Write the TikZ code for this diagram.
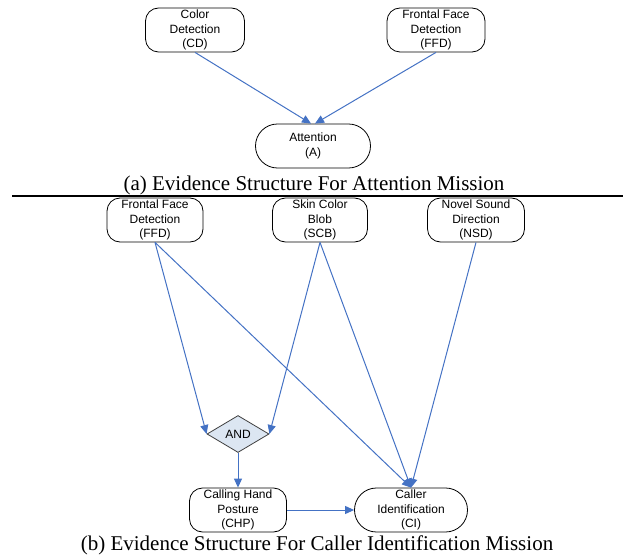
\documentclass[tikz,border=0pt]{standalone}
\usepackage{fontspec}
\setmainfont{Liberation Serif}
\newfontfamily\boxfont{Liberation Sans}
\usetikzlibrary{shapes.geometric,arrows.meta}
\definecolor{arrowblue}{RGB}{68,114,196}
\definecolor{andfill}{RGB}{220,230,242}
\begin{document}
\begin{tikzpicture}[x=1pt,y=-1pt,
  evbox/.style={draw=black, rounded corners=13pt, minimum height=44pt, align=center,
    font=\boxfont\fontsize{12}{14.3}\selectfont, inner sep=0pt, line width=0.8pt},
  stadium/.style={evbox, rounded corners=21.9pt},
  andnode/.style={draw=black!75, fill=andfill, diamond, aspect=1.68, minimum width=62pt,
    minimum height=37pt, inner sep=0pt, line width=0.8pt, font=\boxfont\fontsize{12}{14}\selectfont},
  link/.style={draw=arrowblue, line width=1pt, -{Triangle[length=9pt,width=8pt]}},
  caption/.style={anchor=base, font=\fontsize{21}{24}\selectfont, inner sep=0pt}]
\useasboundingbox (0,0) rectangle (623,556);
% (a)
\node[evbox, minimum width=99pt] (cd) at (195,30) {Color\\Detection\\(CD)};
\node[evbox, minimum width=98pt] (ffda) at (436,30) {Frontal Face\\Detection\\(FFD)};
\node[stadium, minimum width=115pt] (att) at (313,146) {Attention\\(A)};
\draw[link] (cd.south) -- ([xshift=-2pt]att.north);
\draw[link] (ffda.south) -- ([xshift=2pt]att.north);
\node[caption] (capa) at (314,190) {(a) Evidence Structure For Attention Mission};
\coordinate (ruleL) at (12,196);
\coordinate (ruleR) at (623,196);
\draw[line width=2pt] (ruleL) -- (ruleR);
% (b)
\node[evbox, minimum width=96pt] (ffdb) at (155,220) {Frontal Face\\Detection\\(FFD)};
\node[evbox, minimum width=95pt] (scb) at (320,220) {Skin Color\\Blob\\(SCB)};
\node[evbox, minimum width=97pt] (nsd) at (476,220) {Novel Sound\\Direction\\(NSD)};
\node[andnode] (and) at (238,434) {AND};
\node[evbox, minimum width=97pt] (chp) at (238,510) {Calling Hand\\Posture\\(CHP)};
\node[stadium, minimum width=113pt] (ci) at (411,510) {Caller\\Identification\\(CI)};
\draw[link] (ffdb.south) -- (and.west);
\draw[link] (scb.south) -- (and.east);
\draw[link] (ffdb.south) -- (ci.north);
\draw[link] (scb.south) -- (ci.north);
\draw[link] (nsd.south) -- (ci.north);
\draw[link] (and.south) -- (chp.north);
\draw[link] (chp.east) -- (ci.west);
\node[caption] (capb) at (317,550) {(b) Evidence Structure For Caller Identification Mission};
\end{tikzpicture}
\end{document}
